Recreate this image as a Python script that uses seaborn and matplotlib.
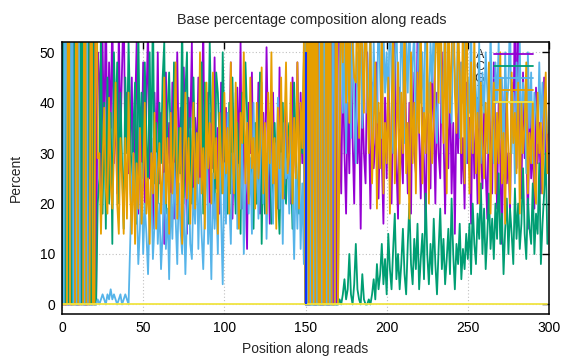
import matplotlib
matplotlib.use("Agg")
import matplotlib.pyplot as plt
import numpy as np
import pandas as pd
import seaborn as sns

# ---------------- data ----------------
bases = ["A", "C", "G", "T", "N"]
colors = ["#9400D3", "#009E73", "#56B4E9", "#E69F00", "#F0E442"]

# positions 0-21: one base dominates each position
dominant_start = "ACGCTCGACTGCACTGCATCAT"
# positions 150-170: one base dominates each position
dominant_mid = "GTGTATGTAGTGATGTAGATA"

# positions 22-41
A_22_41 = [50, 45, 20, 52, 30, 62, 25, 48, 35, 58, 28, 40, 22, 55, 33, 47, 60, 30, 42, 26]
C_22_41 = [20, 25, 55, 18, 40, 15, 45, 20, 38, 12, 50, 35, 48, 20, 42, 28, 15, 45, 30, 52]
G_22_41 = [1, 0, 1, 2, 1, 0, 2, 1, 3, 1, 2, 1, 0, 1, 2, 0, 1, 2, 1, 0]
T_22_41 = [29, 30, 14, 28, 39, 23, 18, 41, 24, 19, 30, 44, 20, 14, 33, 25, 14, 33, 17, 42]

# positions 42-149
A_42_149 = [30, 45, 22, 38, 52, 18, 35, 28, 48, 20, 40, 55, 25, 33, 15, 42, 27, 50,
            24, 38, 31, 12, 46, 28, 36, 20, 44, 17, 33, 50, 26, 39, 22, 47, 30, 14, 41, 35,
            52, 19, 37, 28, 45, 24, 33, 56, 21, 30, 42, 16, 38, 27, 49, 23, 35, 18, 44, 29,
            20, 39, 26, 31, 48, 17, 34, 22, 43, 28, 52, 19, 36, 25, 11, 40, 30, 46, 21, 33,
            27, 44, 18, 29, 38, 23, 51, 31, 16, 35, 42, 24, 30, 19, 47, 28, 36, 21, 39, 25,
            34, 20, 45, 38, 26, 48, 30, 42, 28, 35]
C_42_149 = [38, 20, 35, 44, 16, 55, 30, 42, 25, 48, 33, 22, 50, 28, 60, 24, 36, 20,
            40, 28, 45, 52, 18, 38, 46, 32, 24, 48, 30, 22, 35, 26, 58, 20, 42, 50, 16, 37,
            20, 45, 28, 26, 34, 40, 48, 18, 44, 24, 30, 52, 36, 38, 17, 46, 42, 33, 22, 50,
            35, 24, 18, 40, 22, 45, 28, 18, 36, 30, 14, 42, 32, 48, 38, 22, 26, 30, 15, 36,
            20, 28, 46, 12, 32, 18, 22, 30, 34, 16, 28, 36, 25, 22, 14, 32, 40, 24, 20, 33,
            36, 28, 15, 44, 30, 22, 18, 36, 30, 48]
G_42_149 = [12, 25, 30, 18, 22, 8, 15, 28, 10, 20, 14, 6, 18, 24, 9, 16, 30, 12,
            20, 7, 14, 26, 11, 19, 5, 22, 13, 28, 17, 8, 24, 15, 10, 21, 6, 18, 27, 12,
            9, 23, 16, 30, 11, 25, 14, 7, 19, 33, 12, 20, 5, 26, 15, 22, 10, 35, 18, 4,
            28, 16, 38, 21, 12, 30, 24, 42, 15, 27, 19, 33, 10, 25, 36, 18, 29, 14, 40, 22,
            31, 17, 26, 44, 20, 35, 13, 28, 38, 24, 16, 32, 27, 41, 19, 30, 12, 36, 25, 29,
            18, 34, 22, 9, 27, 15, 31, 11, 24, 8]
T_42_149 = [22, 14, 30, 12, 28, 19, 35, 16, 24, 40, 18, 25, 12, 30, 22, 38, 15, 26,
            32, 18, 27, 45, 20, 33, 14, 38, 22, 30, 48, 17, 26, 35, 12, 29, 42, 21, 33, 16,
            28, 40, 19, 34, 24, 50, 22, 31, 15, 44, 27, 36, 20, 46, 25, 33, 14, 38, 29, 22,
            42, 26, 35, 18, 48, 30, 22, 44, 28, 15, 38, 32, 50, 24, 36, 20, 45, 27, 33, 19,
            40, 25, 31, 47, 22, 36, 18, 42, 28, 50, 24, 33, 15, 39, 27, 45, 21, 34, 48, 26,
            30, 44, 20, 37, 25, 48, 19, 40, 31, 52]

# positions 171-299
A_171_299 = [35, 22, 48, 30, 18, 40, 26, 52, 33, 20, 45, 28, 38, 15, 42, 30, 24, 50, 36, 19,
             44, 27, 32, 48, 21, 38, 29, 16, 41,
             25, 47, 33, 20, 38, 52, 28, 17, 43, 31, 24, 49, 35, 22, 40, 18, 46, 30, 26, 53,
             34, 21, 39, 28, 15, 44, 32, 23, 48, 36,
             20, 42, 30, 25, 50, 34, 18, 38, 27, 45, 22, 36, 14, 40, 30, 48, 24, 33, 19, 44,
             28, 37, 16, 41, 25, 35, 20, 46, 30, 23,
             38, 26, 17, 42, 31, 22, 48, 35, 19, 40, 28, 12, 36, 45, 24, 30, 18, 44, 33, 60,
             27, 70, 38, 21, 46, 29, 35, 15, 40, 25, 32, 19, 43, 28, 36, 22, 30, 45, 26, 34]
C_171_299 = [1, 0, 2, 5, 1, 3, 10, 2, 0, 4, 12, 3, 1, 0, 6, 1, 0, 0, 1, 0, 2, 5, 1, 8, 3,
             6, 12, 4, 9, 2, 14, 7, 3, 11, 18, 5, 10, 3, 8, 15, 6, 2, 12, 20, 8,
             4, 13, 7, 16, 3, 9, 14, 5, 22, 10, 4, 12, 6, 17, 8, 2, 11, 19, 7, 13,
             4, 9, 15, 6, 21, 10, 3, 12, 8, 16, 5, 11, 7, 14,
             9, 16, 6, 20, 12, 8, 18, 13, 24, 10, 19, 7, 14, 22, 11, 17, 9, 20, 13, 26,
             12, 18, 6, 15, 21, 10, 19, 14, 8, 23, 13, 20, 11, 16, 27, 14, 9, 21, 15, 12,
             24, 10, 18, 14, 28, 8, 16, 22, 30, 12]
G_171_299 = [45, 60, 38, 52, 30, 48, 55, 33, 62, 40, 28, 50, 42, 58, 35, 47, 65, 38, 44, 56,
             30, 52, 40, 36, 60, 45, 33, 55, 42,
             50, 38, 62, 44, 30, 48, 56, 40, 35, 58, 46, 32, 52, 42, 60, 36, 48, 54, 30, 44,
             58, 40, 50, 34, 62, 46, 38, 52, 44, 56,
             40, 32, 48, 55, 36, 44, 58, 30, 50, 42, 36, 54, 46, 38, 60, 33, 48, 40, 52, 28,
             45, 38, 56, 30, 48, 42, 35, 52, 28, 46,
             38, 50, 42, 30, 55, 36, 28, 48, 40, 52, 33, 45, 26, 50, 38, 44, 58, 30, 42, 24,
             48, 36, 52, 30, 44, 40, 26, 50, 35, 46, 28, 42, 38, 32, 48, 36, 44, 30, 40, 34]
T_171_299 = [30, 65, 48, 72, 40, 58, 36, 70, 52, 45, 44, 66, 33, 60, 50, 38, 64, 42, 30, 55,
             24, 35, 48, 19, 40, 27, 58, 22, 36,
             28, 45, 18, 38, 55, 24, 33, 48, 20, 42, 30, 60, 26, 36, 17, 50, 28, 40, 22, 46,
             34, 58, 24, 38, 30, 52, 20, 44, 28, 36,
             48, 60, 40, 65, 44, 32, 58, 22, 62, 38, 50, 70, 42, 34, 55, 46, 30, 58, 24, 64,
             40, 22, 48, 30, 54, 26, 38, 20, 44, 32,
             25, 40, 30, 48, 18, 36, 44, 22, 38, 28, 50, 24, 34, 16, 42, 30, 20, 46, 32, 38,
             26, 44, 18, 40, 30, 36, 48, 22, 34, 28, 40, 24, 20, 42, 30, 36, 22, 38, 46, 26]

N_all = [0.0] * 300

# read boundary marker
boundary_pos = [150]
boundary_top = [50]

x_ticks = [0, 50, 100, 150, 200, 250, 300]
y_ticks = [0, 10, 20, 30, 40, 50]

# ---------------- assemble ----------------
def spikes(seq, base):
    return [100.0 if s == base else 0.0 for s in seq]

series = {
    "A": spikes(dominant_start, "A") + A_22_41 + A_42_149 + spikes(dominant_mid, "A") + A_171_299,
    "C": spikes(dominant_start, "C") + C_22_41 + C_42_149 + spikes(dominant_mid, "C") + C_171_299,
    "G": spikes(dominant_start, "G") + G_22_41 + G_42_149 + spikes(dominant_mid, "G") + G_171_299,
    "T": spikes(dominant_start, "T") + T_22_41 + T_42_149 + spikes(dominant_mid, "T") + T_171_299,
    "N": N_all,
}
for k, v in series.items():
    assert len(v) == 300, (k, len(v))

rows = []
for b in bases:
    for i, val in enumerate(series[b]):
        rows.append((i, float(val), b))
df = pd.DataFrame(rows, columns=["pos", "pct", "base"])

# ---------------- plot ----------------
sns.set_theme(style="white")
plt.rcParams["font.family"] = ["Liberation Sans", "DejaVu Sans"]

fig = plt.figure(figsize=(5.76, 3.6), dpi=100)
ax = fig.add_axes([62 / 576, 46 / 360, 487 / 576, 272.3 / 360])

ax.grid(True, color="#c0c0c0", linestyle=(0, (1, 2)), linewidth=0.8, zorder=0)
ax.set_axisbelow(True)

sns.lineplot(data=df, x="pos", y="pct", hue="base", hue_order=bases,
             palette=colors, estimator=None, sort=False, linewidth=1.3,
             ax=ax, legend="full")

ax.vlines(boundary_pos, 0, boundary_top, colors="#1030ff", linewidth=1.5, zorder=3)

ax.set_xlim(0, 300)
ax.set_ylim(-1.9, 52.1)
ax.set_xticks(x_ticks)
ax.set_yticks(y_ticks)
ax.tick_params(direction="in", length=5, width=1, top=True, right=True,
               labelsize=10, colors="black", pad=5)
for s in ax.spines.values():
    s.set_color("black")
    s.set_linewidth(1.1)

ax.set_xlabel("Position along reads", fontsize=10, labelpad=5)
ax.set_ylabel("Percent", fontsize=10, labelpad=12)
fig.text(312 / 576, 1 - 20 / 360, "Base percentage composition along reads",
         ha="center", va="center", fontsize=10.4)

h, l = ax.get_legend_handles_labels()
leg_kw = dict(loc="upper right", bbox_to_anchor=(0.967, 0.972),
              frameon=False, markerfirst=False, handlelength=3.1,
              handletextpad=0.8, labelspacing=0.0, borderaxespad=0,
              borderpad=0, fontsize=9)
# legend sample lines drawn above the data, labels drawn beneath it
leg_lines = ax.legend(h, l, **leg_kw)
for line in leg_lines.get_lines():
    line.set_linewidth(1.3)
for t in leg_lines.get_texts():
    t.set_alpha(0)
leg_lines.set_zorder(6)
ax.add_artist(leg_lines)

leg_text = ax.legend(h, l, **leg_kw)
for line in leg_text.get_lines():
    line.set_alpha(0)
leg_text.set_zorder(1.5)

fig.savefig("out.png", dpi=100)
